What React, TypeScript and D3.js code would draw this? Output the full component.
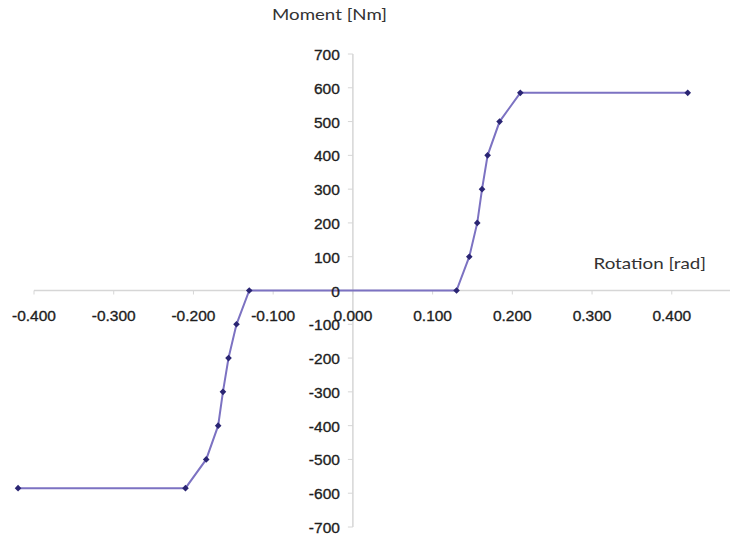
import React from "react";
import * as d3 from "d3";

const rotation: number[] = [-0.420, -0.210, -0.184, -0.169, -0.163, -0.156, -0.146, -0.130, 0.130, 0.146, 0.156, 0.162, 0.169, 0.184, 0.210, 0.420];
const moment: number[] = [-585, -585, -500, -400, -300, -200, -100, 0, 0, 100, 200, 300, 400, 500, 585, 585];
const xTicks: number[] = [-0.4, -0.3, -0.2, -0.1, 0, 0.1, 0.2, 0.3, 0.4, 0.5];
const yTicks: number[] = [-700, -600, -500, -400, -300, -200, -100, 0, 100, 200, 300, 400, 500, 600, 700];
const xTitle = "Rotation [rad]";
const yTitle = "Moment [Nm]";

const W = 730;
const H = 538;

export default function App() {
  const x = d3.scaleLinear().domain([-0.4, 0.5]).range([34, 751.5]);
  const y = d3.scaleLinear().domain([-700, 700]).range([527, 54]);
  const pts = rotation.map((r, i) => [r, moment[i]] as [number, number]);
  const line = d3
    .line<[number, number]>()
    .x((d) => x(d[0]))
    .y((d) => y(d[1]));
  const marker = d3.symbol().type(d3.symbolSquare).size(22)();
  const axisColor = "#d6d6d6";
  const labelFont = "'Liberation Sans', Arial, sans-serif";
  const titleFont = "Lato, 'Open Sans', sans-serif";
  return (
    <svg
      width={W}
      height={H}
      style={{ position: "absolute", left: 0, top: 0, background: "#fff" }}
    >
      {/* axes */}
      <line x1={x(-0.4)} x2={W} y1={y(0)} y2={y(0)} stroke={axisColor} strokeWidth={1.5} />
      <line x1={x(0)} x2={x(0)} y1={y(700)} y2={y(-700)} stroke={axisColor} strokeWidth={1.5} />
      {xTicks.map((t) => (
        <line key={"xt" + t} x1={x(t)} x2={x(t)} y1={y(0)} y2={y(0) + 4} stroke={axisColor} />
      ))}
      {yTicks.map((t) => (
        <line key={"yt" + t} x1={x(0) - 5} x2={x(0)} y1={y(t)} y2={y(t)} stroke={axisColor} />
      ))}
      {/* data */}
      <path d={line(pts) || ""} fill="none" stroke="#7c72c2" strokeWidth={2} />
      {pts.map((p, i) => (
        <path
          key={"m" + i}
          d={marker || ""}
          transform={`translate(${x(p[0])},${y(p[1])}) rotate(45)`}
          fill="#2a2573"
        />
      ))}
      {/* tick labels */}
      {xTicks.map((t) => (
        <text
          key={"xl" + t}
          x={x(t)}
          y={y(0) + 30}
          textAnchor="middle"
          fontFamily={labelFont}
          fontSize={15.5}
          fill="#1e1e1e"
          stroke="#1e1e1e"
          strokeWidth={0.35}
        >
          {d3.format(".3f")(t).replace("−", "-")}
        </text>
      ))}
      {yTicks.map((t) => (
        <text
          key={"yl" + t}
          x={x(0) - 13}
          y={y(t) + 6}
          textAnchor="end"
          fontFamily={labelFont}
          fontSize={15.5}
          fill="#1e1e1e"
          stroke="#1e1e1e"
          strokeWidth={0.35}
        >
          {String(t)}
        </text>
      ))}
      {/* titles */}
      <text x={272} y={19.5} fontFamily={titleFont} fontSize={16} fill="#333" textLength={115} lengthAdjust="spacingAndGlyphs">
        {yTitle}
      </text>
      <text x={593.5} y={268.5} fontFamily={titleFont} fontSize={16} fill="#333" textLength={112.5} lengthAdjust="spacingAndGlyphs">
        {xTitle}
      </text>
    </svg>
  );
}
